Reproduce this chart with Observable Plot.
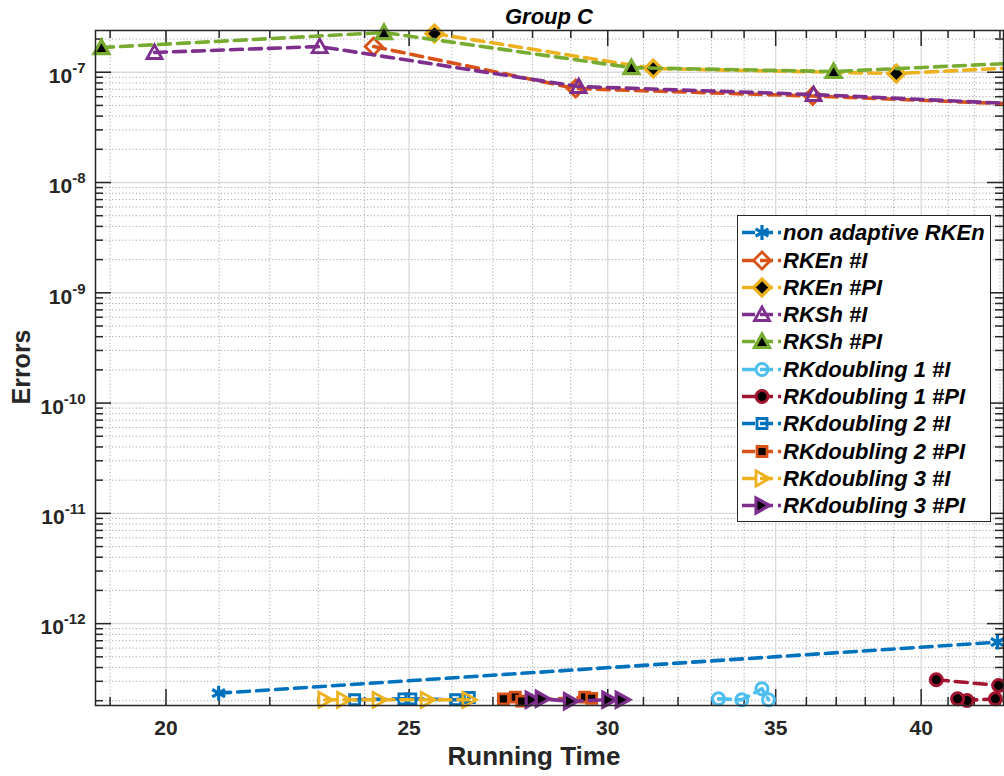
<!DOCTYPE html>
<html><head><meta charset="utf-8">
<script src="https://cdn.jsdelivr.net/npm/d3@7"></script>
<script src="https://cdn.jsdelivr.net/npm/@observablehq/plot@0.6"></script>
<style>
body{margin:0;background:#fff;}
#wrap{position:relative;width:1004px;height:776px;overflow:hidden;font-family:"Liberation Sans",Arial,sans-serif;color:#000;}
.lbl{position:absolute;font-weight:bold;white-space:nowrap;}
#legend{position:absolute;left:737px;top:215px;width:254px;height:307px;border:1.5px solid #262626;background:#fff;box-sizing:border-box;}
.row{position:absolute;left:0;height:27px;width:252px;}
.row svg{position:absolute;left:0;top:0;}
.row span{position:absolute;left:45px;top:0;line-height:27px;font-size:22px;font-weight:bold;font-style:italic;}
</style></head>
<body><div id="wrap"></div>
<script>
// ---------- data ----------
const seriesNames = ["non adaptive RKEn","RKEn #I","RKEn #PI","RKSh #I","RKSh #PI","RKdoubling 1 #I","RKdoubling 1 #PI","RKdoubling 2 #I","RKdoubling 2 #PI","RKdoubling 3 #I","RKdoubling 3 #PI"];

const nonAdaptiveTime = [20.99, 42.90];
const nonAdaptiveErr  = [2.34e-13, 6.79e-13];
const rkEnITime = [24.20, 29.13, 36.21, 44.0];
const rkEnIErr  = [1.71e-7, 7.11e-8, 6.08e-8, 5.10e-8];
const rkEnPITime = [25.59, 31.28, 39.10, 44.0];
const rkEnPIErr  = [2.24e-7, 1.08e-7, 9.73e-8, 1.11e-7];
const rkShITime = [19.79, 23.03, 29.21, 36.24, 44.0];
const rkShIErr  = [1.51e-7, 1.71e-7, 7.42e-8, 6.28e-8, 5.13e-8];
const rkShPITime = [18.85, 24.43, 30.66, 36.91, 44.0];
const rkShPIErr  = [1.675e-7, 2.29e-7, 1.10e-7, 1.015e-7, 1.22e-7];
const rkD1ITime = [33.21, 33.93, 34.56, 34.77];
const rkD1IErr  = [2.08e-13, 2.04e-13, 2.57e-13, 2.04e-13];
const rkD1PITime = [40.56, 42.95, 42.82, 41.72, 41.36];
const rkD1PIErr  = [3.10e-13, 2.75e-13, 2.08e-13, 2.01e-13, 2.08e-13];
const rkD2ITime = [23.78, 24.88, 25.04, 26.09, 26.42];
const rkD2IErr  = [2.04e-13, 2.08e-13, 2.08e-13, 2.04e-13, 2.14e-13];
const rkD2PITime = [27.26, 27.56, 27.72, 29.37, 29.56];
const rkD2PIErr  = [2.08e-13, 2.16e-13, 1.98e-13, 2.16e-13, 2.10e-13];
const rkD3ITime = [23.14, 23.54, 24.32, 25.42, 26.41];
const rkD3IErr  = [2.04e-13, 2.04e-13, 2.04e-13, 2.04e-13, 2.04e-13];
const rkD3PITime = [27.99, 28.25, 28.99, 30.03, 30.40];
const rkD3PIErr  = [2.04e-13, 2.08e-13, 1.98e-13, 2.04e-13, 2.04e-13];

const xMajorTicks = [20, 25, 30, 35, 40];
const yMajorTicks = [1e-12, 1e-11, 1e-10, 1e-9, 1e-8, 1e-7];
const xDomain = [18.747, 43.14];
const yDomain = [1.81e-13, 2.39e-7];

// ---------- styles ----------
const seriesColors = ["#0072BD","#D95319","#EDB120","#7E2F8E","#77AC30","#4DBEEE","#A2142F","#0072BD","#D95319","#EDB120","#7E2F8E"];
const sym = {
  diamond: {draw(c,s){const r=Math.sqrt(s/Math.PI); c.moveTo(0,-r); c.lineTo(r,0); c.lineTo(0,r); c.lineTo(-r,0); c.closePath();}},
  triUp: {draw(c,s){const r=Math.sqrt(s/Math.PI); c.moveTo(0,-r); c.lineTo(r,r*0.8); c.lineTo(-r,r*0.8); c.closePath();}},
  triRight: {draw(c,s){const r=Math.sqrt(s/Math.PI); c.moveTo(r,0); c.lineTo(-r*0.8,-r); c.lineTo(-r*0.8,r); c.closePath();}},
  square: {draw(c,s){const r=Math.sqrt(s/Math.PI); c.rect(-r,-r,2*r,2*r);}},
  circle: {draw(c,s){const r=Math.sqrt(s/Math.PI); c.moveTo(r,0); c.arc(0,0,r,0,2*Math.PI);}},
  asterisk: d3.symbolAsterisk
};
const markerSpecs = [
  {s: sym.asterisk, r: 7, fill: "none", sw: 3.2},
  {s: sym.diamond, r: 8.5, fill: "none", sw: 2.8},
  {s: sym.diamond, r: 8.5, fill: "black", sw: 3.2},
  {s: sym.triUp, r: 7.5, fill: "none", sw: 2.8},
  {s: sym.triUp, r: 7.5, fill: "black", sw: 3.2},
  {s: sym.circle, r: 6, fill: "none", sw: 3},
  {s: sym.circle, r: 6, fill: "black", sw: 3},
  {s: sym.square, r: 5, fill: "none", sw: 2.8},
  {s: sym.square, r: 5, fill: "black", sw: 2.8},
  {s: sym.triRight, r: 7.5, fill: "none", sw: 2.8},
  {s: sym.triRight, r: 7.5, fill: "black", sw: 3.2}
];
const dash = "12,7";

const seriesData = [
  [nonAdaptiveTime, nonAdaptiveErr], [rkEnITime, rkEnIErr], [rkEnPITime, rkEnPIErr],
  [rkShITime, rkShIErr], [rkShPITime, rkShPIErr], [rkD1ITime, rkD1IErr], [rkD1PITime, rkD1PIErr],
  [rkD2ITime, rkD2IErr], [rkD2PITime, rkD2PIErr], [rkD3ITime, rkD3IErr], [rkD3PITime, rkD3PIErr]
].map(([xs, ys], i) => xs.map((x, j) => ({series: seriesNames[i], x, y: ys[j]})));

// minor tick positions (axis structure)
const xMinorTicks = d3.range(19, 44).filter(v => !xMajorTicks.includes(v));
const yMinorTicks = [];
for (let e = -13; e <= -7; e++) for (let k = 2; k <= 9; k++) {
  const v = +(k * Math.pow(10, e)).toPrecision(3);
  if (v > yDomain[0] && v < yDomain[1]) yMinorTicks.push(v);
}

const W = 1004, H = 776, mL = 95, mR = 1, mT = 30, mB = 71;
const PW = W - mL - mR, PH = H - mT - mB;
const axisColor = "#262626";

const marks = [
  Plot.ruleX(xMinorTicks, {x: d => d, stroke: "#a8a8a8", strokeDasharray: "1.2,2.2", strokeWidth: 1}),
  Plot.ruleY(yMinorTicks, {y: d => d, stroke: "#a8a8a8", strokeDasharray: "1.2,2.2", strokeWidth: 1}),
  Plot.ruleX(xMajorTicks, {x: d => d, stroke: "#d9d9d9", strokeWidth: 1.3}),
  Plot.ruleY(yMajorTicks, {y: d => d, stroke: "#d9d9d9", strokeWidth: 1.3}),
  Plot.ruleX(xMajorTicks, {x: d => d, insetTop: PH - 16, stroke: axisColor, strokeWidth: 1.5}),
  Plot.ruleX(xMajorTicks, {x: d => d, insetBottom: PH - 16, stroke: axisColor, strokeWidth: 1.5}),
  Plot.ruleX(xMinorTicks, {x: d => d, insetTop: PH - 8, stroke: axisColor, strokeWidth: 1.5}),
  Plot.ruleX(xMinorTicks, {x: d => d, insetBottom: PH - 8, stroke: axisColor, strokeWidth: 1.5}),
  Plot.ruleY(yMajorTicks, {y: d => d, insetRight: PW - 16, stroke: axisColor, strokeWidth: 1.5}),
  Plot.ruleY(yMajorTicks, {y: d => d, insetLeft: PW - 16, stroke: axisColor, strokeWidth: 1.5}),
  Plot.ruleY(yMinorTicks, {y: d => d, insetRight: PW - 8, stroke: axisColor, strokeWidth: 1.5}),
  Plot.ruleY(yMinorTicks, {y: d => d, insetLeft: PW - 8, stroke: axisColor, strokeWidth: 1.5}),
  Plot.axisX(xMajorTicks, {tickSize: 0, tickPadding: 15, tickFormat: d => String(d), label: null, fontSize: 21, fontWeight: "bold", fill: "#262626"}),
  Plot.axisY(yMajorTicks, {tickSize: 0, tickPadding: 10, tickFormat: d => "10|" + Math.round(Math.log10(d)), label: null, fontSize: 21, fontWeight: "bold", fill: "#262626"})
];
seriesData.forEach((rows, i) => {
  const m = markerSpecs[i];
  marks.push(Plot.line(rows, {x: "x", y: "y", stroke: seriesColors[i], strokeWidth: 3.6, strokeDasharray: dash}));
  marks.push(Plot.dot(rows, {x: "x", y: "y", symbol: m.s, r: m.r, fill: m.fill, stroke: seriesColors[i], strokeWidth: m.sw}));
});
marks.push(Plot.frame({stroke: axisColor, strokeWidth: 1.5}));

const chart = Plot.plot({
  width: W, height: H,
  marginLeft: mL, marginRight: mR, marginTop: mT, marginBottom: mB,
  style: {fontFamily: "Liberation Sans, Arial, sans-serif", background: "white", overflow: "visible"},
  x: {type: "log", domain: xDomain, axis: null},
  y: {type: "log", domain: yDomain, axis: null},
  marks
});
const wrap = document.getElementById("wrap");
wrap.appendChild(chart);

chart.querySelectorAll('g[aria-label="y-axis tick label"] text').forEach(t => {
  const [base, exp] = t.textContent.split("|");
  t.textContent = "";
  const ns = "http://www.w3.org/2000/svg";
  const t1 = document.createElementNS(ns, "tspan"); t1.textContent = base; t1.setAttribute("dy", "4");
  const t2 = document.createElementNS(ns, "tspan"); t2.textContent = exp; t2.setAttribute("dy", "-10"); t2.setAttribute("font-size", "15");
  t.appendChild(t1); t.appendChild(t2);
});

function addLabel(text, css) {
  const d = document.createElement("div"); d.className = "lbl"; d.textContent = text;
  Object.assign(d.style, css); wrap.appendChild(d); return d;
}
addLabel("Group C", {left: mL + "px", width: PW + "px", textAlign: "center", top: "6px", fontSize: "22px", lineHeight: "22px", fontStyle: "italic"});
addLabel("Running Time", {left: "80px", width: PW + "px", textAlign: "center", top: "743px", fontSize: "26px", lineHeight: "26px", color: "#262626"});
addLabel("Errors", {left: "21px", top: "367px", fontSize: "25px", lineHeight: "25px", color: "#262626", transform: "translate(-50%,-50%) rotate(-90deg)"});

const legend = document.createElement("div"); legend.id = "legend"; wrap.appendChild(legend);
seriesNames.forEach((name, i) => {
  const row = document.createElement("div"); row.className = "row";
  row.style.top = (3.2 + i * 27.3) + "px";
  const svg = d3.create("svg").attr("width", 45).attr("height", 27);
  svg.append("line").attr("x1", 4).attr("x2", 43).attr("y1", 13.5).attr("y2", 13.5)
    .attr("stroke", seriesColors[i]).attr("stroke-width", 3.5).attr("stroke-dasharray", "13,5");
  const m = markerSpecs[i];
  const p = d3.path(); m.s.draw(p, m.r * m.r * Math.PI);
  svg.append("path").attr("d", p.toString()).attr("transform", "translate(24,13.5)")
    .attr("fill", m.fill).attr("stroke", seriesColors[i]).attr("stroke-width", m.sw);
  row.appendChild(svg.node());
  const sp = document.createElement("span"); sp.textContent = name; row.appendChild(sp);
  legend.appendChild(row);
});
</script>
</body></html>
